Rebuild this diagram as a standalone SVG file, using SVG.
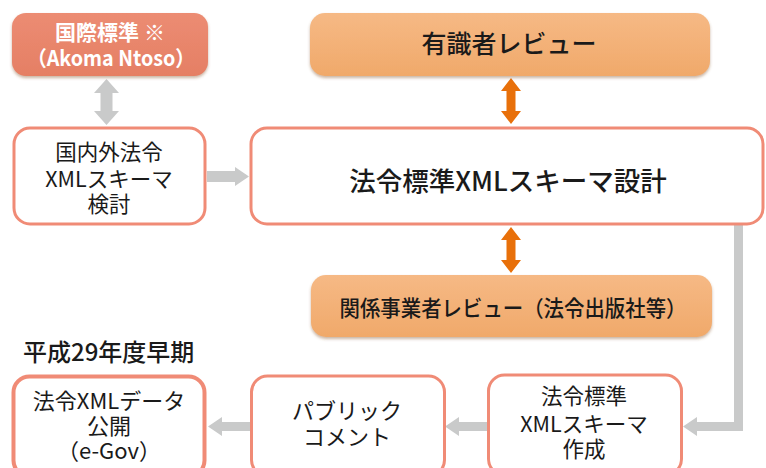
<svg xmlns="http://www.w3.org/2000/svg" width="766" height="468" viewBox="0 0 766 468">
<defs>
<linearGradient id="gOrange" x1="0" y1="0" x2="0" y2="1">
<stop offset="0" stop-color="#F6B985"/>
<stop offset="1" stop-color="#F0A96A"/>
</linearGradient>
<linearGradient id="gSalmon" x1="0" y1="0" x2="0" y2="1">
<stop offset="0" stop-color="#EC8C73"/>
<stop offset="1" stop-color="#E57F64"/>
</linearGradient>
<filter id="sh" x="-10%" y="-10%" width="120%" height="140%">
<feDropShadow dx="0" dy="2" stdDeviation="1.5" flood-color="#8a5a30" flood-opacity="0.45"/>
</filter>
<style>
.box{fill:#fff;stroke:#F08B76;stroke-width:3}
.t{font-family:"Noto Sans CJK JP","Noto Sans",sans-serif;fill:#1a1a1a;text-anchor:middle}
.w{fill:#fff;font-weight:bold}
.gray{fill:#C9CACA}
.org{fill:#E8700A}
</style>
</defs>

<g id="connectors">
<polygon class="gray" points="106.5,79 119,93 112.5,93 112.5,111 119,111 106.5,125 94,111 100.5,111 100.5,93 94,93"/>
<polygon class="gray" points="207,171 235,171 235,167 249,176.5 235,186 235,182 207,182"/>
<polygon class="org" points="511,78 521,91 515.5,91 515.5,111 521,111 511,124 501,111 506.5,111 506.5,91 501,91"/>
<polygon class="org" points="511,227 521,240 515.5,240 515.5,260 521,260 511,273 501,260 506.5,260 506.5,240 501,240"/>
<polygon class="gray" points="734,225 743,225 743,431 697,431 697,436 683,426.5 697,417 697,422 734,422"/>
<polygon class="gray" points="487,422 459,422 459,417 445,426.5 459,436 459,431 487,431"/>
<polygon class="gray" points="250,422 222,422 222,417 208,426.5 222,436 222,431 250,431"/>
</g>

<g id="intl">
<rect x="12" y="13" width="196" height="63" rx="14" fill="url(#gSalmon)" filter="url(#sh)"/>
<text class="t w" x="110" y="40" font-size="21">国際標準 ※</text>
<text class="t w" x="111" y="66" font-size="21" textLength="168" lengthAdjust="spacingAndGlyphs">（Akoma Ntoso）</text>
</g>

<g id="review1">
<rect x="310" y="13" width="400" height="63" rx="15" fill="url(#gOrange)" filter="url(#sh)"/>
<text class="t" x="509" y="53" font-size="25" font-weight="500">有識者レビュー</text>
</g>

<g id="domestic">
<rect class="box" x="14" y="128" width="191" height="96" rx="16"/>
<text class="t" x="109" y="160" font-size="21.5">国内外法令</text>
<text class="t" x="109" y="187" font-size="21.5">XMLスキーマ</text>
<text class="t" x="109" y="212" font-size="21.5">検討</text>
</g>

<g id="design">
<rect class="box" x="251" y="128" width="512" height="96" rx="16"/>
<text class="t" x="508" y="191" font-size="26.5" font-weight="500">法令標準XMLスキーマ設計</text>
</g>

<g id="review2">
<rect x="311" y="275" width="401" height="62" rx="15" fill="url(#gOrange)" filter="url(#sh)"/>
<text class="t" x="513" y="316" font-size="22" font-weight="500" textLength="347" lengthAdjust="spacingAndGlyphs">関係事業者レビュー（法令出版社等）</text>
</g>

<text class="t" x="23" y="361" font-size="24" font-weight="500" style="text-anchor:start">平成29年度早期</text>

<g id="publish">
<rect x="13.5" y="376.5" width="191" height="100" rx="16" fill="#fff" stroke="#F08B76" stroke-width="4"/>
<text class="t" x="109" y="409" font-size="22">法令XMLデータ</text>
<text class="t" x="109" y="434" font-size="22">公開</text>
<text class="t" x="109" y="459" font-size="22">（e-Gov）</text>
</g>

<g id="pubcomment">
<rect class="box" x="251.5" y="376" width="193" height="100" rx="16"/>
<text class="t" x="347" y="419" font-size="22">パブリック</text>
<text class="t" x="347" y="445" font-size="22">コメント</text>
</g>

<g id="create">
<rect class="box" x="488.5" y="375" width="193" height="100" rx="16"/>
<text class="t" x="584" y="404" font-size="21.5">法令標準</text>
<text class="t" x="584" y="432" font-size="21.5">XMLスキーマ</text>
<text class="t" x="584" y="457" font-size="21.5">作成</text>
</g>
</svg>
